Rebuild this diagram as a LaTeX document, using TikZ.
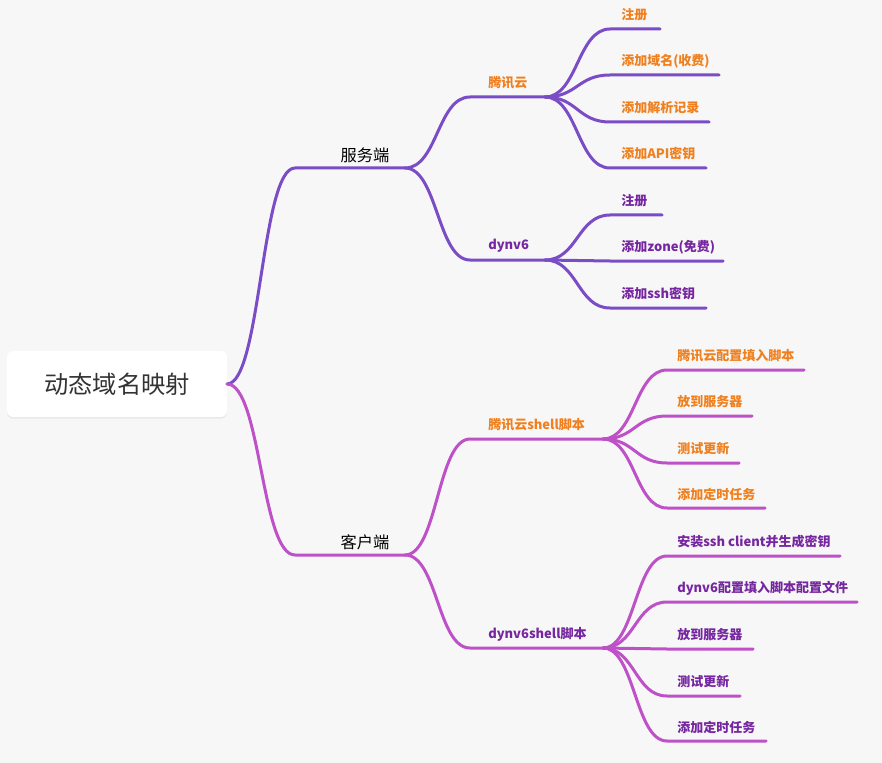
\documentclass[tikz,border=0pt]{standalone}
\usepackage{fontspec}
\setmainfont{Noto Sans CJK SC}
\usetikzlibrary{calc,shadows}
\definecolor{bg}{HTML}{F7F7F7}
\definecolor{lpurple}{RGB}{122,76,198}
\definecolor{lmag}{RGB}{190,80,200}
\definecolor{torange}{RGB}{240,128,30}
\definecolor{tpurple}{RGB}{118,38,160}
\definecolor{roottext}{HTML}{333333}
\tikzset{
  x=0.75pt,y=-0.75pt,
  linkS/.style={draw=lpurple,line width=2.25pt,line cap=round},
  linkC/.style={draw=lmag,line width=2.25pt,line cap=round},
  lvone/.style={font=\fontsize{12.2}{14}\selectfont,text=black,inner sep=0pt},
  lvO/.style={font=\fontsize{9.75}{12}\selectfont\bfseries,text=torange,inner sep=0pt},
  lvP/.style={font=\fontsize{9.75}{12}\selectfont\bfseries,text=tpurple,inner sep=0pt},
}
% #1 name, #2 start x, #3 y, #4 end x, #5 text x, #6 style, #7 text
\newcommand{\topicnode}[7]{%
  \coordinate (#1s) at (#2,#3);
  \coordinate (#1e) at (#4,#3);
  \node[#6,anchor=west] (#1) at (#5,{#3-14}) {#7};}
% #1 style, #2 parent point, #3 child name
\newcommand{\linkto}[3]{%
  \draw[#1] let \p1=(#2), \p2=(#3s) in (#2) .. controls ({(\x1+\x2)/2},\y1) and ({(\x1+\x2)/2},\y2) .. (#3s) -- (#3e);}
\begin{document}
\begin{tikzpicture}
\fill[bg] (0,0) rectangle (882,763);
\useasboundingbox (0,0) rectangle (882,763);
\node[fill=white,rounded corners=4.5pt,minimum width=165pt,minimum height=49.5pt,
  drop shadow={shadow xshift=0pt,shadow yshift=-1.2pt,opacity=0.12},
  font=\fontsize{18.2}{22}\selectfont,text=roottext] (root) at (117,384) {动态域名映射};
\coordinate (rootr) at (227,384);
% level 1
\node[lvone,anchor=center] (s) at (365,155) {服务端};
\coordinate (ss) at (295,168); \coordinate (se) at (405,168);
\node[lvone,anchor=center] (c) at (365,542) {客户端};
\coordinate (cs) at (295,555); \coordinate (ce) at (405,555);
\linkto{linkS}{rootr}{s}
\linkto{linkC}{rootr}{c}
% level 2
\topicnode{st}{470}{97}{545}{488}{lvO}{腾讯云}
\topicnode{sd}{470}{260}{545}{488}{lvP}{dynv6}
\topicnode{ct}{470}{439}{603}{488}{lvO}{腾讯云shell脚本}
\topicnode{cd}{470}{648}{603}{488}{lvP}{dynv6shell脚本}
\linkto{linkS}{se}{st}
\linkto{linkS}{se}{sd}
\linkto{linkC}{ce}{ct}
\linkto{linkC}{ce}{cd}
% leaves service / tencent
\topicnode{sta}{610}{29}{660}{621}{lvO}{注册}
\topicnode{stb}{610}{75}{719}{621}{lvO}{添加域名(收费)}
\topicnode{stc}{610}{122}{709}{621}{lvO}{添加解析记录}
\topicnode{std}{610}{168}{706}{621}{lvO}{添加API密钥}
\linkto{linkS}{ste}{sta}
\linkto{linkS}{ste}{stb}
\linkto{linkS}{ste}{stc}
\linkto{linkS}{ste}{std}
% leaves service / dynv6
\topicnode{sda}{610}{215}{662}{621}{lvP}{注册}
\topicnode{sdb}{610}{261}{723}{621}{lvP}{添加zone(免费)}
\topicnode{sdc}{610}{308}{706}{621}{lvP}{添加ssh密钥}
\linkto{linkS}{sde}{sda}
\linkto{linkS}{sde}{sdb}
\linkto{linkS}{sde}{sdc}
% leaves client / tencent
\topicnode{cta}{667}{370}{804}{677}{lvO}{腾讯云配置填入脚本}
\topicnode{ctb}{667}{416}{752}{677}{lvO}{放到服务器}
\topicnode{ctc}{667}{463}{739}{677}{lvO}{测试更新}
\topicnode{ctd}{667}{508}{765}{677}{lvO}{添加定时任务}
\linkto{linkC}{cte}{cta}
\linkto{linkC}{cte}{ctb}
\linkto{linkC}{cte}{ctc}
\linkto{linkC}{cte}{ctd}
% leaves client / dynv6
\topicnode{cda}{667}{556}{840}{677}{lvP}{安装ssh client并生成密钥}
\topicnode{cdb}{667}{602}{857}{677}{lvP}{dynv6配置填入脚本配置文件}
\topicnode{cdc}{667}{649}{753}{677}{lvP}{放到服务器}
\topicnode{cdd}{667}{696}{740}{677}{lvP}{测试更新}
\topicnode{cdf}{667}{741}{766}{677}{lvP}{添加定时任务}
\linkto{linkC}{cde}{cda}
\linkto{linkC}{cde}{cdb}
\linkto{linkC}{cde}{cdc}
\linkto{linkC}{cde}{cdd}
\linkto{linkC}{cde}{cdf}
\end{tikzpicture}
\end{document}
